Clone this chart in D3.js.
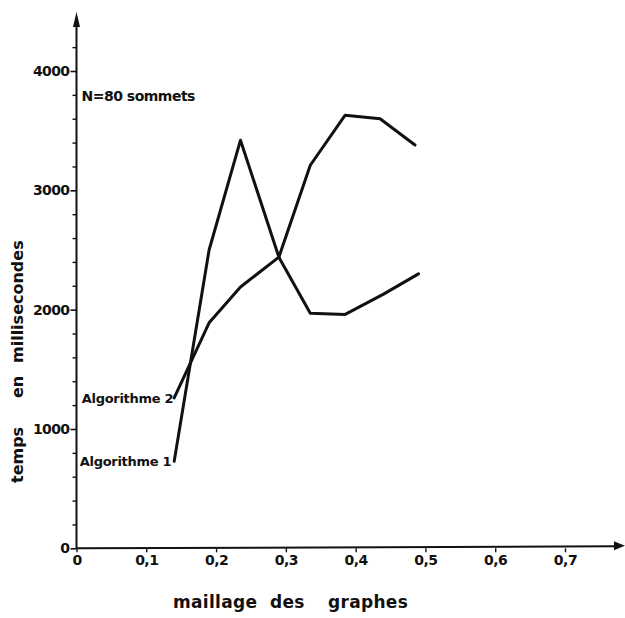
<!DOCTYPE html>
<html>
<head>
<meta charset="utf-8">
<script src="https://cdn.jsdelivr.net/npm/d3@7"></script>
<style>
  body { margin: 0; background: #fff; }
  svg { display: block; }
  text { font-family: "DejaVu Sans", "Liberation Sans", Arial, sans-serif; font-weight: bold; fill: #111; }
</style>
</head>
<body>
<svg id="chart" width="625" height="618"></svg>
<script>
// ---- data ----
const xTickValues = [0, 0.1, 0.2, 0.3, 0.4, 0.5, 0.6, 0.7];
const xTickLabels = ["0", "0,1", "0,2", "0,3", "0,4", "0,5", "0,6", "0,7"];
const yTickValues = [0, 1000, 2000, 3000, 4000];
const yTickLabels = ["0", "1000", "2000", "3000", "4000"];
const yMinorTicks = [200, 400, 600, 800, 1200, 1400, 1600, 1800, 2200, 2400, 2600, 2800, 3200, 3400, 3600, 3800, 4200];

const algo1X = [0.14, 0.19, 0.235, 0.29, 0.335, 0.385, 0.44, 0.49];
const algo1Y = [730, 2500, 3420, 2440, 1970, 1960, 2130, 2300];
const algo2X = [0.14, 0.19, 0.235, 0.29, 0.335, 0.385, 0.435, 0.485];
const algo2Y = [1260, 1890, 2190, 2440, 3210, 3630, 3600, 3380];

const seriesNames = ["Algorithme 1", "Algorithme 2"];
const noteText = "N=80 sommets";
const xTitleWords = ["maillage", "des", "graphes"];
const yTitleWords = ["temps", "en", "millisecondes"];

// ---- scales ----
const svg = d3.select("#chart");
const x = d3.scaleLinear().domain([0, 0.7]).range([76.5, 565]);
const y = d3.scaleLinear().domain([0, 4000]).range([548.3, 71]);

const ink = "#111";

// ---- y axis ----
const yAxis = d3.axisLeft(y)
  .tickValues(yTickValues)
  .tickFormat((d, i) => yTickLabels[i])
  .tickSize(6)
  .tickPadding(1);
const gy = svg.append("g").attr("transform", `translate(${x(0)},0)`).call(yAxis);
gy.select(".domain").remove();
gy.selectAll(".tick line").attr("stroke", ink).attr("stroke-width", 1.6);
gy.selectAll(".tick text").style("font-size", "14px").attr("fill", ink).style("letter-spacing", "-0.6px");

const yMinor = d3.axisLeft(y).tickValues(yMinorTicks).tickSize(4).tickFormat("");
const gym = svg.append("g").attr("transform", `translate(${x(0)},0)`).call(yMinor);
gym.select(".domain").remove();
gym.selectAll(".tick line").attr("stroke", ink).attr("stroke-width", 1.4);

// ---- x axis ----
const xAxis = d3.axisBottom(x)
  .tickValues(xTickValues)
  .tickFormat((d, i) => xTickLabels[i])
  .tickSize(4)
  .tickPadding(3);
const gx = svg.append("g").attr("transform", `translate(0,${y(0)})`).call(xAxis);
gx.select(".domain").remove();
gx.selectAll(".tick line").attr("stroke", ink).attr("stroke-width", 1.4);
gx.selectAll(".tick text").style("font-size", "14px").attr("fill", ink).style("letter-spacing", "-0.5px");

// axis lines with arrows
const yTop = y(4470);
svg.append("line")
  .attr("x1", x(0)).attr("y1", y(0)).attr("x2", x(0)).attr("y2", yTop + 8)
  .attr("stroke", ink).attr("stroke-width", 2);
svg.append("path")
  .attr("d", `M${x(0)},${yTop - 3} L${x(0) - 3.5},${yTop + 12} L${x(0) + 3.5},${yTop + 12} Z`)
  .attr("fill", ink);

const xRight = x(0.783);
svg.append("line")
  .attr("x1", x(0)).attr("y1", y(0)).attr("x2", xRight - 8).attr("y2", y(0) - 2)
  .attr("stroke", ink).attr("stroke-width", 2);
svg.append("path")
  .attr("d", `M${xRight + 2},${y(0) - 2.5} L${xRight - 9},${y(0) - 7} L${xRight - 9},${y(0) + 2} Z`)
  .attr("fill", ink);

// ---- lines ----
const line = d3.line().x(d => x(d[0])).y(d => y(d[1]));
const s1 = algo1X.map((v, i) => [v, algo1Y[i]]);
const s2 = algo2X.map((v, i) => [v, algo2Y[i]]);
[s1, s2].forEach(s => {
  svg.append("path")
    .datum(s)
    .attr("d", line)
    .attr("fill", "none")
    .attr("stroke", ink)
    .attr("stroke-width", 3)
    .attr("stroke-linejoin", "round")
    .attr("stroke-linecap", "round");
});

// series labels (ending at first point)
svg.append("text")
  .attr("x", x(algo1X[0]) - 3).attr("y", y(algo1Y[0]) + 5)
  .attr("text-anchor", "end")
  .style("font-size", "13px").style("letter-spacing", "-0.3px")
  .text(seriesNames[0]);
svg.append("text")
  .attr("x", x(algo2X[0]) - 1).attr("y", y(algo2Y[0]) + 5)
  .attr("text-anchor", "end")
  .style("font-size", "13px").style("letter-spacing", "-0.3px")
  .text(seriesNames[1]);

// note
svg.append("text")
  .attr("x", x(0) + 5).attr("y", y(3790) + 5)
  .style("font-size", "14px").style("letter-spacing", "-0.5px")
  .text(noteText);

// axis titles
const xt = svg.append("text")
  .attr("y", 608)
  .style("font-size", "17px").style("letter-spacing", "0.3px");
const xWordPos = [173, 270, 328];
xTitleWords.forEach((w, i) => xt.append("tspan").attr("x", xWordPos[i]).text(w));

const yt = svg.append("text")
  .attr("transform", "translate(23,483) rotate(-90)")
  .style("font-size", "16px");
const yWordPos = [0, 85, 120];
yTitleWords.forEach((w, i) => yt.append("tspan").attr("x", yWordPos[i]).text(w));
</script>
</body>
</html>
